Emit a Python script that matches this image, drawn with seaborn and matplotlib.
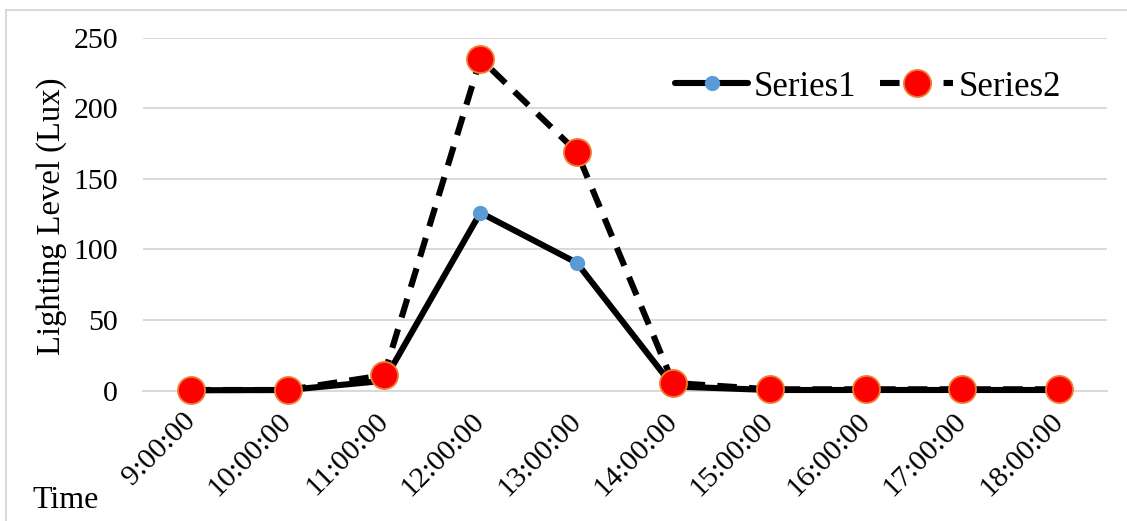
import matplotlib
matplotlib.use("Agg")
import matplotlib.pyplot as plt
import seaborn as sns
import pandas as pd
from matplotlib.patches import Rectangle

times = ["9:00:00", "10:00:00", "11:00:00", "12:00:00", "13:00:00",
         "14:00:00", "15:00:00", "16:00:00", "17:00:00", "18:00:00"]
series1 = [0.3, 0.5, 7, 126, 90.5, 3, 0.5, 0.5, 0.5, 0.5]
series2 = [0.5, 0.5, 11, 235, 169, 5.5, 1, 1, 1, 1]
y_ticks = [0, 50, 100, 150, 200, 250]

sns.set_theme(style="white")
plt.rcParams["font.family"] = ["Liberation Serif", "DejaVu Serif"]
plt.rcParams["text.color"] = "black"
plt.rcParams["xtick.color"] = "black"
plt.rcParams["ytick.color"] = "black"
plt.rcParams["axes.labelcolor"] = "black"

fig = plt.figure(figsize=(11.27, 5.21), dpi=100)
ax = fig.add_axes([143/1127, 1-390.7/521, (1107-143)/1127, (390.7-37.5)/521])

pos = list(range(len(times)))
df = pd.DataFrame({"pos": pos, "s1": series1, "s2": series2})

sns.lineplot(data=df, x="pos", y="s1", ax=ax, color="black", linewidth=4.4,
             marker="o", markersize=11, markerfacecolor="#5B9BD5",
             markeredgecolor="#5B9BD5", markeredgewidth=0, label="Series1",
             clip_on=False, zorder=3)
sns.lineplot(data=df, x="pos", y="s2", ax=ax, color="black", linewidth=4.4,
             marker="o", markersize=19.5, markerfacecolor="#FF0000",
             markeredgecolor="#ED7D31", markeredgewidth=1.3, label="Series2",
             clip_on=False, zorder=4)
ax.lines[-1].set_dashes((3.2, 2.0))

ax.set_xlim(-0.5, len(times) - 0.5)
ax.set_ylim(0, 250)
ax.set_yticks(y_ticks)
ax.set_yticklabels([str(v) for v in y_ticks], fontsize=21.5)
ax.set_xticks(pos)
ax.set_xticklabels(times, fontsize=21.5, rotation=45, ha="right",
                   va="center", rotation_mode="anchor")
ax.tick_params(axis="x", length=0, pad=19, colors="black")
ax.tick_params(axis="y", length=0, pad=18, colors="black")
ax.grid(axis="y", color="#D9D9D9", linewidth=1.4)
ax.set_axisbelow(True)
for s in ["top", "right", "left"]:
    ax.spines[s].set_visible(False)
ax.spines["bottom"].set_color("#D9D9D9")
ax.spines["bottom"].set_linewidth(1.4)
ax.set_xlabel("")
ax.set_ylabel("")
fig.text(52/1127, 1-216/521, "Lighting Level (Lux)", fontsize=23.5,
         rotation=90, ha="center", va="center", color="black")

leg = ax.legend(loc="center", bbox_to_anchor=(868/1127, 1-87/521),
                bbox_transform=fig.transFigure, ncol=2, frameon=False,
                fontsize=25, handlelength=2.1, handletextpad=0.15,
                columnspacing=0.7, borderpad=0, labelcolor="black")

fig.text(32/1127, 1-500/521, "Time", fontsize=23, ha="left", va="center",
         color="black")

fig.add_artist(Rectangle((6/1127, -0.1), 1.2, 1.1 - 10/521,
                         transform=fig.transFigure, fill=False,
                         edgecolor="#D9D9D9", linewidth=1.4, clip_on=False))

fig.savefig("out.png", dpi=100)
